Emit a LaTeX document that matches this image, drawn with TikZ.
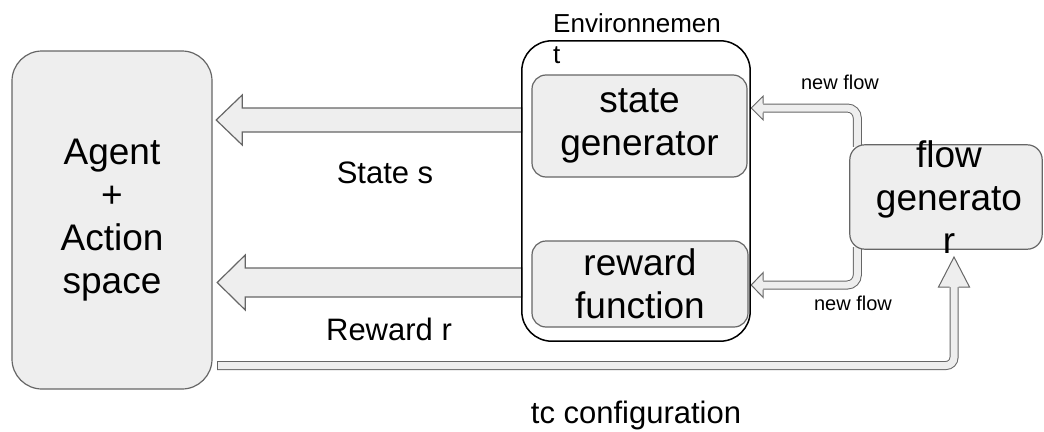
\documentclass[tikz,border=0pt]{standalone}
\usepackage{fontspec}
\setmainfont{Liberation Sans}
\usetikzlibrary{calc}
\definecolor{boxfill}{HTML}{EEEEEE}
\definecolor{boxline}{HTML}{666666}
\begin{document}
\begin{tikzpicture}[x=1pt,y=-1pt,
  gbox/.style={draw=boxline, fill=boxfill, line width=1.2pt, rounded corners=#1, inner sep=0pt},
  envbox/.style={draw=black, line width=1.5pt, rounded corners=30pt, inner sep=0pt},
  bigtext/.style={font=\fontsize{37}{43}\selectfont, align=center, inner sep=0pt},
  midtext/.style={font=\fontsize{31}{37}\selectfont, inner sep=0pt, anchor=base},
  smalltext/.style={font=\fontsize{20}{24}\selectfont, inner sep=0pt, anchor=base},
  blockarrow/.style={draw=boxline, fill=boxfill, line width=1.2pt, line join=miter},
  shaft/.style={draw=boxline, line width=1pt, double=boxfill, double distance=7pt, rounded corners=10pt},
  headfill/.style={draw=boxline, fill=boxfill, line width=1pt, line join=miter}]
\useasboundingbox (0,0) rectangle (1044,431);

% box positions (drawn later, defined now as empty paths for naming)
\path (112,220) node[minimum width=200pt, minimum height=338pt, inner sep=0pt] (agent) {};
\path (636,191) node[minimum width=228pt, minimum height=300pt, inner sep=0pt] (env) {};
\path (946,197) node[minimum width=192pt, minimum height=104pt, inner sep=0pt] (fg) {};

% left block arrows
\coordinate (stip) at ([xshift=4pt]agent.east |- 0,120);
\filldraw[blockarrow] (stip) -- ([shift={(26,-25)}]stip) -- ([shift={(26,-12)}]stip)
  -- (env.west |- 0,108) -- (env.west |- 0,132) -- ([shift={(26,12)}]stip)
  -- ([shift={(26,25)}]stip) -- cycle;
\coordinate (rtip) at ([xshift=5pt]agent.east |- 0,282.5);
\filldraw[blockarrow] (rtip) -- ([shift={(28,-27.5)}]rtip) -- ([shift={(28,-14.5)}]rtip)
  -- (env.west |- 0,268) -- (env.west |- 0,297) -- ([shift={(28,14.5)}]rtip)
  -- ([shift={(28,27.5)}]rtip) -- cycle;

% new flow arrows
\coordinate (tip1) at ([xshift=1pt]env.east |- 0,108);
\draw[shaft] ([shift={(7.5,2)}]fg.north west) |- ([xshift=11pt]tip1);
\filldraw[headfill] ([shift={(12,-4.5)}]tip1) -- ([shift={(12,-12)}]tip1) -- (tip1)
  -- ([shift={(12,12)}]tip1) -- ([shift={(12,4.5)}]tip1);
\coordinate (tip2) at ([xshift=1pt]env.east |- 0,285);
\draw[shaft] ([shift={(7.5,-2)}]fg.south west) |- ([xshift=11pt]tip2);
\filldraw[headfill] ([shift={(12,-4.5)}]tip2) -- ([shift={(12,-12.5)}]tip2) -- (tip2)
  -- ([shift={(12,12.5)}]tip2) -- ([shift={(12,4.5)}]tip2);

% tc configuration arrow
\coordinate (tcs) at ([xshift=5pt]agent.east |- 0,365.5);
\coordinate (tip3) at (954,257);
\draw[shaft, rounded corners=8pt] (tcs) -| ([yshift=-29pt]tip3);
\draw[draw=boxline, line width=1pt] ([shift={(0,-4.5)}]tcs) -- ([shift={(0,4.5)}]tcs);
\filldraw[headfill] ([shift={(-4.5,30)}]tip3) -- ([shift={(-15.5,30)}]tip3) -- (tip3)
  -- ([shift={(15.5,30)}]tip3) -- ([shift={(4.5,30)}]tip3);

% boxes
\draw[envbox] (env.north west) rectangle (env.south east);
\node[gbox=30pt, minimum width=200pt, minimum height=338pt, bigtext] at (agent) {Agent\\+\\Action\\space};
\node[gbox=14pt, minimum width=215pt, minimum height=102pt, bigtext] (sg) at (639.5,126) {state\\generator};
\node[gbox=14pt, minimum width=216pt, minimum height=86pt, bigtext] (rf) at (640,284) {reward\\function};
\draw[gbox=15pt] (fg.north west) rectangle (fg.south east);
\node[bigtext] (fgtext) at (949,197) {flow\\generato\\r};

% labels
\node[font=\fontsize{26}{31}\selectfont, align=left, inner sep=0pt, anchor=north west] (envlabel) at (553,13) {Environnemen\\t};
\node[midtext] (slabel) at (385,183) {State s};
\node[midtext] (rlabel) at (389,340) {Reward r};
\node[midtext] (tclabel) at (636,423) {tc configuration};
\node[smalltext] (nf1) at (840,89) {new flow};
\node[smalltext] (nf2) at (853,310) {new flow};
\end{tikzpicture}
\end{document}
